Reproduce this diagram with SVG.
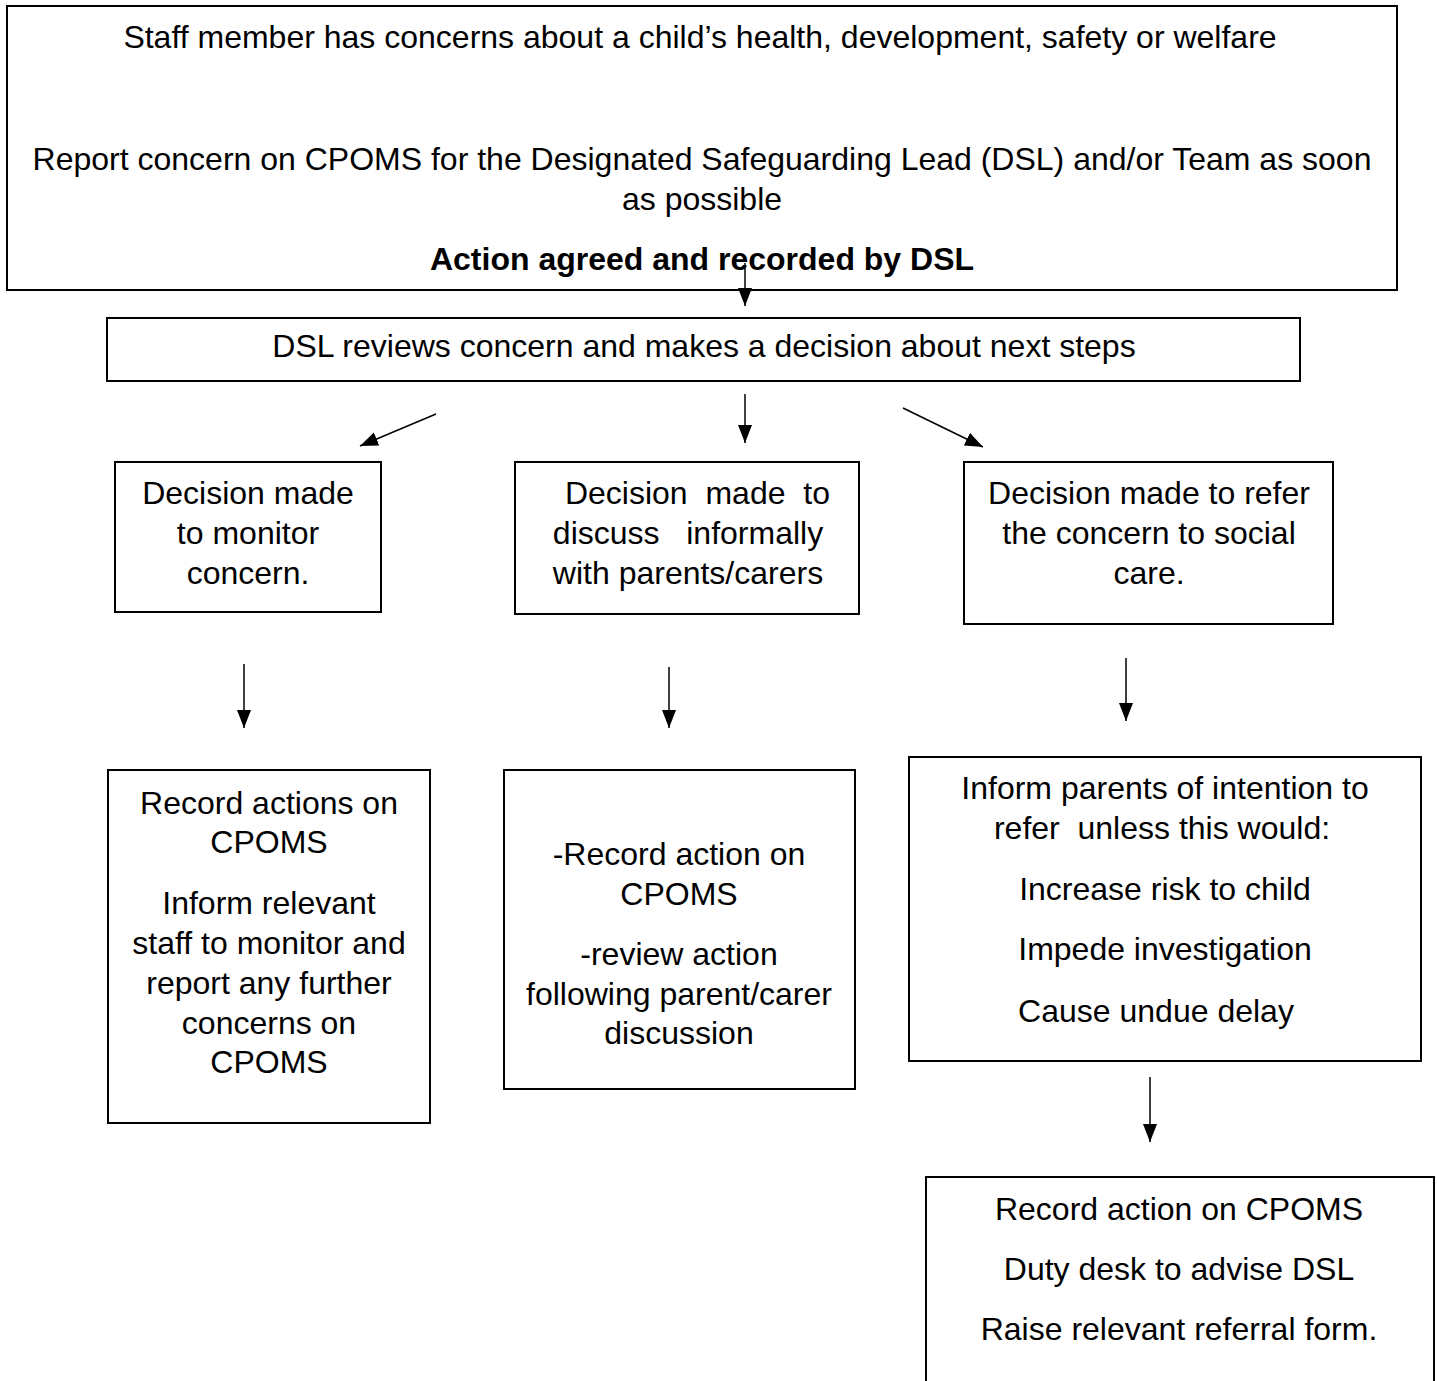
<svg xmlns="http://www.w3.org/2000/svg" width="1437" height="1381" viewBox="0 0 1437 1381">
<style>
.box{fill:#fff;stroke:#000;stroke-width:2}
.t{font-family:"Liberation Sans",Arial,sans-serif;font-size:32px;fill:#000;text-anchor:middle}
.b{font-weight:bold}
.c{stroke:#000;stroke-width:1.5;fill:none;marker-end:url(#ah)}
</style>
<defs>
<marker id="ah" markerUnits="userSpaceOnUse" markerWidth="18" markerHeight="16" viewBox="0 0 18 16" refX="18" refY="8" orient="auto">
<path d="M0,1 L18,8 L0,15 Z" fill="#000"/>
</marker>
</defs>
<rect width="1437" height="1381" fill="#fff"/>
<g id="n1">
<rect class="box" x="7" y="6" width="1390" height="284"/>
<text class="t" x="700" y="48">Staff member has concerns about a child’s health, development, safety or welfare</text>
<text class="t" x="702" y="170">Report concern on CPOMS for the Designated Safeguarding Lead (DSL) and/or Team as soon</text>
<text class="t" x="702" y="210">as possible</text>
<text class="t b" x="702" y="270">Action agreed and recorded by DSL</text>
</g>
<g id="n2">
<rect class="box" x="107" y="318" width="1193" height="63"/>
<text class="t" x="704" y="357">DSL reviews concern and makes a decision about next steps</text>
</g>
<g id="n3">
<rect class="box" x="115" y="462" width="266" height="150"/>
<text class="t" x="248" y="504">Decision made</text>
<text class="t" x="248" y="544">to monitor</text>
<text class="t" x="248" y="584">concern.</text>
</g>
<g id="n4">
<rect class="box" x="515" y="462" width="344" height="152"/>
<text class="t" x="693" y="504" xml:space="preserve"> Decision  made  to</text>
<text class="t" x="688" y="544" xml:space="preserve">discuss   informally</text>
<text class="t" x="688" y="584">with parents/carers</text>
</g>
<g id="n5">
<rect class="box" x="964" y="462" width="369" height="162"/>
<text class="t" x="1149" y="504">Decision made to refer</text>
<text class="t" x="1149" y="544">the concern to social</text>
<text class="t" x="1149" y="584">care.</text>
</g>
<g id="n6">
<rect class="box" x="108" y="770" width="322" height="353"/>
<text class="t" x="269" y="814">Record actions on</text>
<text class="t" x="269" y="853">CPOMS</text>
<text class="t" x="269" y="914">Inform relevant</text>
<text class="t" x="269" y="954">staff to monitor and</text>
<text class="t" x="269" y="994">report any further</text>
<text class="t" x="269" y="1034">concerns on</text>
<text class="t" x="269" y="1073">CPOMS</text>
</g>
<g id="n7">
<rect class="box" x="504" y="770" width="351" height="319"/>
<text class="t" x="679" y="865">-Record action on</text>
<text class="t" x="679" y="905">CPOMS</text>
<text class="t" x="679" y="965">-review action</text>
<text class="t" x="679" y="1005">following parent/carer</text>
<text class="t" x="679" y="1044">discussion</text>
</g>
<g id="n8">
<rect class="box" x="909" y="757" width="512" height="304"/>
<text class="t" x="1165" y="799">Inform parents of intention to</text>
<text class="t" x="1162" y="839" xml:space="preserve">refer  unless this would:</text>
<text class="t" x="1165" y="900">Increase risk to child</text>
<text class="t" x="1165" y="960">Impede investigation</text>
<text class="t" x="1156" y="1022">Cause undue delay</text>
</g>
<g id="n9">
<rect class="box" x="926" y="1177" width="508" height="230"/>
<text class="t" x="1179" y="1220">Record action on CPOMS</text>
<text class="t" x="1179" y="1280">Duty desk to advise DSL</text>
<text class="t" x="1179" y="1340">Raise relevant referral form.</text>
</g>
<g id="connectors">
<line class="c" x1="745" y1="263" x2="745" y2="306"/>
<line class="c" x1="436" y1="414" x2="360" y2="446"/>
<line class="c" x1="745" y1="394" x2="745" y2="443"/>
<line class="c" x1="903" y1="408" x2="983" y2="447"/>
<line class="c" x1="244" y1="664" x2="244" y2="728"/>
<line class="c" x1="669" y1="667" x2="669" y2="728"/>
<line class="c" x1="1126" y1="658" x2="1126" y2="721"/>
<line class="c" x1="1150" y1="1077" x2="1150" y2="1142"/>
</g>
</svg>
